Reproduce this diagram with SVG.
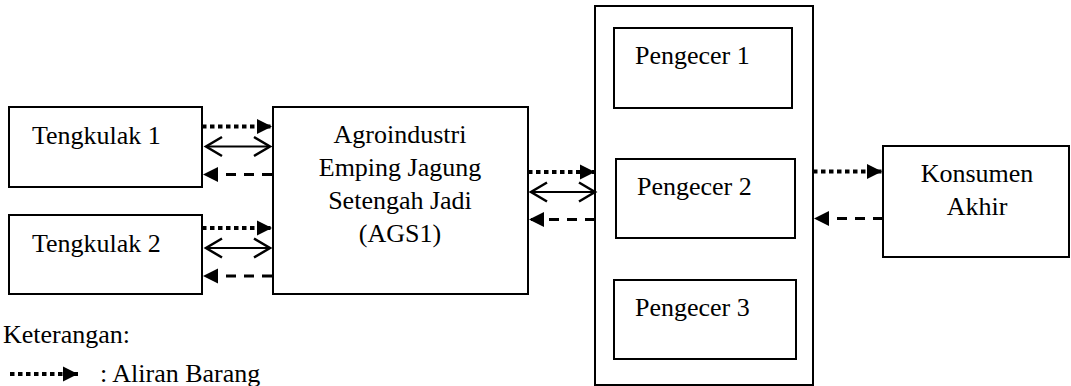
<svg xmlns="http://www.w3.org/2000/svg" width="1071" height="386" viewBox="0 0 1071 386">
<style>
.box{fill:#fff;stroke:#000;stroke-width:2}
.frame{fill:none;stroke:#000;stroke-width:2}
.t{font-family:'Liberation Serif','Times New Roman','DejaVu Serif',serif;font-size:26px;fill:#000}
.c{text-anchor:middle}
.dot{stroke:#000;stroke-width:4;stroke-dasharray:4.5 3.5;fill:none;marker-end:url(#tri)}
.dash{stroke:#000;stroke-width:3;stroke-dasharray:10 8;fill:none;marker-end:url(#tri)}
.both{stroke:#000;stroke-width:2;fill:none;marker-start:url(#open);marker-end:url(#open)}
</style>
<defs>
<marker id="tri" markerUnits="userSpaceOnUse" markerWidth="16" markerHeight="15" refX="15" refY="7.5" orient="auto" overflow="visible">
<path d="M0,0 L15,7.5 L0,15 z" fill="#000"/>
</marker>
<marker id="open" markerUnits="userSpaceOnUse" markerWidth="20" markerHeight="22" refX="17" refY="11" orient="auto-start-reverse" overflow="visible">
<path d="M1,1.5 L17,11 L1,20.5" fill="none" stroke="#000" stroke-width="2.5"/>
</marker>
</defs>
<rect width="1071" height="386" fill="#fff"/>

<g id="pengecer-group">
<rect class="frame" x="595" y="6" width="218" height="379"/>
</g>
<g id="tengkulak1">
<rect class="box" x="9" y="107" width="193" height="80"/>
<text class="t" x="32" y="144" font-family="Liberation Serif, serif">Tengkulak 1</text>
</g>
<g id="tengkulak2">
<rect class="box" x="9" y="215" width="193" height="79"/>
<text class="t" x="32" y="252" font-family="Liberation Serif, serif">Tengkulak 2</text>
</g>
<g id="ags1">
<rect class="box" x="273" y="107" width="255" height="187"/>
<text class="t c" x="400" y="143" font-family="Liberation Serif, serif">Agroindustri</text>
<text class="t c" x="400" y="176" font-family="Liberation Serif, serif">Emping Jagung</text>
<text class="t c" x="400" y="209" font-family="Liberation Serif, serif">Setengah Jadi</text>
<text class="t c" x="400" y="242" font-family="Liberation Serif, serif">(AGS1)</text>
</g>
<g id="pengecer1">
<rect class="box" x="614" y="28" width="178" height="80"/>
<text class="t" x="635" y="64" font-family="Liberation Serif, serif">Pengecer 1</text>
</g>
<g id="pengecer2">
<rect class="box" x="616" y="159" width="179" height="79"/>
<text class="t" x="637" y="195" font-family="Liberation Serif, serif">Pengecer 2</text>
</g>
<g id="pengecer3">
<rect class="box" x="614" y="280" width="182" height="79"/>
<text class="t" x="635" y="316" font-family="Liberation Serif, serif">Pengecer 3</text>
</g>
<g id="konsumen">
<rect class="box" x="883" y="146" width="186" height="111"/>
<text class="t c" x="977" y="182" font-family="Liberation Serif, serif">Konsumen</text>
<text class="t c" x="977" y="215" font-family="Liberation Serif, serif">Akhir</text>
</g>

<g id="connectors">
<line class="dot" x1="202" y1="126.5" x2="272" y2="126.5"/>
<line class="both" x1="206" y1="146.5" x2="270" y2="146.5"/>
<line class="dash" x1="272" y1="174.5" x2="203" y2="174.5"/>

<line class="dot" x1="202" y1="228" x2="272" y2="228"/>
<line class="both" x1="206" y1="248" x2="270" y2="248"/>
<line class="dash" x1="272" y1="276" x2="203" y2="276"/>

<line class="dot" x1="528" y1="172" x2="595" y2="172"/>
<line class="both" x1="531" y1="192" x2="595" y2="192"/>
<line class="dash" x1="595" y1="219.5" x2="529" y2="219.5"/>

<line class="dot" x1="813" y1="171.5" x2="882" y2="171.5"/>
<line class="dash" x1="883" y1="218.5" x2="814" y2="218.5"/>
</g>

<g id="legend">
<text class="t" x="3" y="343" font-family="Liberation Serif, serif">Keterangan:</text>
<line class="dot" x1="10" y1="374" x2="78" y2="374"/>
<text class="t" x="100" y="382" font-family="Liberation Serif, serif">: Aliran Barang</text>
</g>
</svg>
